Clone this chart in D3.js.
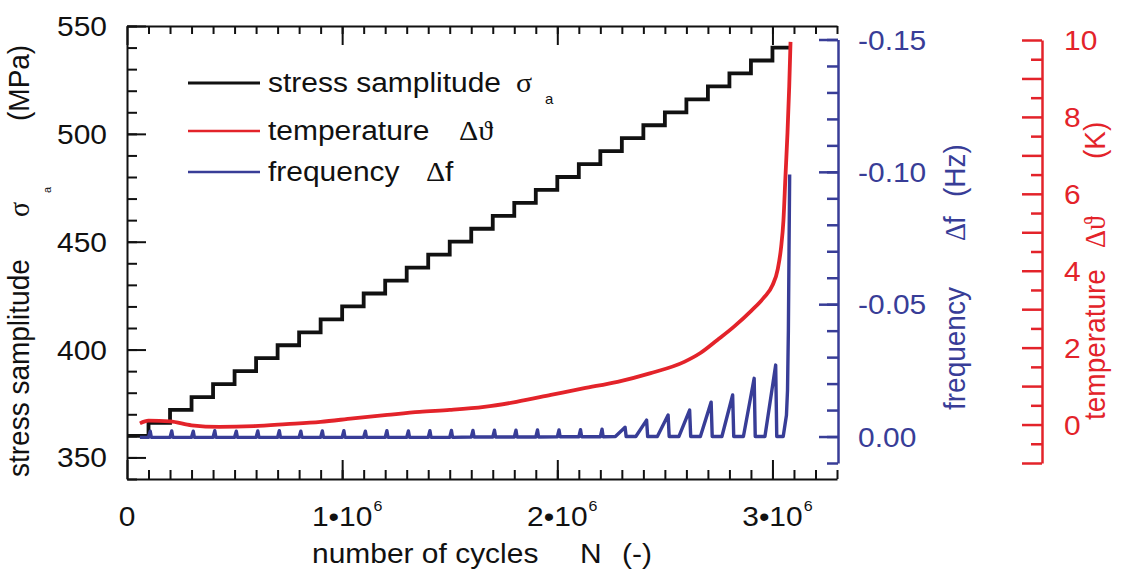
<!DOCTYPE html>
<html>
<head>
<meta charset="utf-8">
<script src="https://cdn.jsdelivr.net/npm/d3@7"></script>
<style>
  body { margin: 0; background: #fff; }
  svg { display: block; }
</style>
</head>
<body>
<script>

// number of cycles in units of 10^6
var stressCycles = [0, 0.1, 0.2, 0.3, 0.4, 0.5, 0.6, 0.7, 0.8, 0.9, 1.0, 1.1, 1.2, 1.3, 1.4, 1.5,
    1.6, 1.7, 1.8, 1.9, 2.0, 2.1, 2.2, 2.3, 2.4, 2.5, 2.6, 2.7, 2.8, 2.9, 3.0, 3.08];
var stressLevels = [360, 366, 372, 378, 384, 390, 396, 402, 408, 414, 420, 426, 432, 438, 444, 450,
    456, 462, 468, 474, 480, 486, 492, 498, 504, 510, 516, 522, 528, 534, 540, 540];

var tempCycles = [0.06, 0.1, 0.2, 0.3, 0.43, 0.59, 0.74, 0.9, 1.05, 1.21, 1.36, 1.5, 1.66, 1.81, 1.97,
    2.12, 2.28, 2.43, 2.59, 2.665, 2.744, 2.82, 2.9, 2.96, 3.0, 3.025, 3.04, 3.051, 3.06, 3.07, 3.078, 3.084];
var tempValues = [0.03, 0.1, 0.08, -0.02, -0.06, -0.04, 0.01, 0.07, 0.16, 0.25, 0.33, 0.38, 0.46, 0.59, 0.77,
    0.94, 1.11, 1.33, 1.63, 1.86, 2.2, 2.54, 2.95, 3.3, 3.62, 4.05, 4.6, 5.3, 6.4, 7.6, 8.8, 9.95];

var freqCycles = [0.06,
    0.10, 0.108, 0.113, 0.20, 0.208, 0.213, 0.30, 0.308, 0.313, 0.40, 0.408, 0.413,
    0.50, 0.508, 0.513, 0.60, 0.608, 0.613, 0.70, 0.708, 0.713, 0.80, 0.808, 0.813,
    0.90, 0.908, 0.913, 1.00, 1.008, 1.013, 1.10, 1.108, 1.113, 1.20, 1.208, 1.213,
    1.30, 1.308, 1.313, 1.40, 1.408, 1.413, 1.50, 1.508, 1.513, 1.60, 1.608, 1.613,
    1.70, 1.708, 1.713, 1.80, 1.808, 1.813, 1.90, 1.908, 1.913, 2.00, 2.008, 2.013,
    2.10, 2.108, 2.113, 2.20, 2.208, 2.213,
    2.27, 2.315, 2.32, 2.365, 2.415, 2.42, 2.465, 2.515, 2.52, 2.565, 2.615, 2.62,
    2.665, 2.715, 2.72, 2.765, 2.815, 2.82, 2.865, 2.915, 2.92, 2.965, 3.015, 3.02,
    3.05, 3.065, 3.07, 3.074, 3.077, 3.08];
var freqValues = [0.0003,
    0.0003, -0.0020, 0.0003, 0.0003, -0.0021, 0.0003, 0.0003, -0.0020, 0.0003, 0.0003, -0.0022, 0.0003,
    0.0003, -0.0020, 0.0003, 0.0003, -0.0021, 0.0003, 0.0003, -0.0022, 0.0003, 0.0003, -0.0020, 0.0003,
    0.0003, -0.0021, 0.0003, 0.0003, -0.0022, 0.0003, 0.0003, -0.0020, 0.0003, 0.0003, -0.0022, 0.0003,
    0.0003, -0.0021, 0.0003, 0.0003, -0.0022, 0.0003, 0.0003, -0.0023, 0.0003, 0.0002, -0.0023, 0.0002,
    0.0002, -0.0024, 0.0002, 0.0002, -0.0024, 0.0002, 0.0002, -0.0025, 0.0002, 0.0001, -0.0025, 0.0001,
    0.0001, -0.0026, 0.0001, 0.0001, -0.0028, 0.0001,
    0.0, -0.0035, 0.0, 0.0, -0.0062, 0.0, 0.0, -0.0081, 0.0, 0.0, -0.0100, 0.0,
    0.0, -0.0130, 0.0, 0.0, -0.0157, 0.0, 0.0, -0.0220, 0.0, 0.0, -0.0270, 0.0,
    0.0, -0.008, -0.0175, -0.040, -0.070, -0.099];

var xTicks = [0, 1, 2, 3];
var xTickLabels = ["0", "1\u202210", "2\u202210", "3\u202210"];
var sigmaTicks = [350, 400, 450, 500, 550];
var freqTicks = [0, -0.05, -0.10, -0.15];
var freqTickLabels = ["0.00", "-0.05", "-0.10", "-0.15"];
var tempTicks = [0, 2, 4, 6, 8, 10];

var legendNames = ["stress samplitude", "temperature", "frequency"];

// layout
var width = 1123, height = 574;
var plot = {left: 127, right: 837, top: 26, bottom: 479};
var black = "#111111", red = "#e3232a", blue = "#383d97";
var sans = "'Liberation Sans', Arial, sans-serif";
var serif = "'Liberation Serif', 'DejaVu Serif', serif";
var fs = 28, sx = 1.07;   // the original figure is slightly stretched sideways

var svg = d3.select("body").append("svg")
    .attr("width", width)
    .attr("height", height);

var x = d3.scaleLinear().domain([0, 3.3]).range([plot.left, plot.right]);
var ySigma = d3.scaleLinear().domain([340, 550]).range([plot.bottom, plot.top]);
var yFreq = d3.scaleLinear().domain([0.01, -0.15]).range([463, 39.5]);
var yTemp = d3.scaleLinear().domain([-1, 10]).range([463, 40]);

// horizontal / rotated text helpers
function hText(g, px, py, str, anchor, color, size, family) {
    return g.append("text")
        .attr("transform", "translate(" + px + "," + py + ") scale(" + sx + ",1)")
        .attr("text-anchor", anchor || "start")
        .attr("fill", color || black)
        .style("font-family", family || sans)
        .style("font-size", (size || fs) + "px")
        .text(str);
}
function vText(g, px, py, str, color, size, family) {
    return g.append("text")
        .attr("transform", "translate(" + px + "," + py + ") rotate(-90) scale(1," + sx + ")")
        .attr("fill", color || black)
        .style("font-family", family || sans)
        .style("font-size", (size || fs) + "px")
        .text(str);
}
function styleAxis(g, color, w) {
    g.attr("color", color);
    g.selectAll("line").attr("stroke-width", w);
    g.selectAll(".domain").attr("stroke-width", w);
}

// ---------- main frame: bottom, top, left ----------
var xMinor = d3.range(1, 34).map(function(i){ return i / 10; });
var sigmaMinor = d3.range(340, 551, 10);

var gb = svg.append("g").attr("transform", "translate(0," + plot.bottom + ")")
    .call(d3.axisBottom(x).tickValues(xTicks).tickSizeInner(-19).tickSizeOuter(0).tickFormat(""));
styleAxis(gb, black, 2);
var gbm = svg.append("g").attr("transform", "translate(0," + plot.bottom + ")")
    .call(d3.axisBottom(x).tickValues(xMinor).tickSizeInner(-9).tickSizeOuter(0).tickFormat(""));
gbm.select(".domain").remove();
styleAxis(gbm, black, 2);

var gt = svg.append("g").attr("transform", "translate(0," + plot.top + ")")
    .call(d3.axisTop(x).tickValues(xTicks).tickSizeInner(-19).tickSizeOuter(0).tickFormat(""));
styleAxis(gt, black, 2);
var gtm = svg.append("g").attr("transform", "translate(0," + plot.top + ")")
    .call(d3.axisTop(x).tickValues(xMinor).tickSizeInner(-8).tickSizeOuter(0).tickFormat(""));
gtm.select(".domain").remove();
styleAxis(gtm, black, 2);

var gl = svg.append("g").attr("transform", "translate(" + plot.left + ",0)")
    .call(d3.axisLeft(ySigma).tickValues(sigmaTicks).tickSizeInner(-19).tickSizeOuter(0).tickFormat(""));
styleAxis(gl, black, 2);
var glm = svg.append("g").attr("transform", "translate(" + plot.left + ",0)")
    .call(d3.axisLeft(ySigma).tickValues(sigmaMinor).tickSizeInner(-10).tickSizeOuter(0).tickFormat(""));
glm.select(".domain").remove();
styleAxis(glm, black, 2);

// ---------- blue frequency axis ----------
var freqMinor = d3.range(-15, 2).map(function(i){ return i / 100; });
var gf = svg.append("g").attr("transform", "translate(838,0)")
    .call(d3.axisRight(yFreq).tickValues(freqTicks).tickSizeInner(-19).tickSizeOuter(0).tickFormat(""));
styleAxis(gf, blue, 2.5);
var gfm = svg.append("g").attr("transform", "translate(838,0)")
    .call(d3.axisRight(yFreq).tickValues(freqMinor).tickSizeInner(-11).tickSizeOuter(0).tickFormat(""));
gfm.select(".domain").remove();
styleAxis(gfm, blue, 2.5);

// ---------- red temperature axis ----------
var tempMajor = d3.range(-1, 11);
var tempMinor = d3.range(-1, 10).map(function(i){ return i + 0.5; });
var gT = svg.append("g").attr("transform", "translate(1042,0)")
    .call(d3.axisRight(yTemp).tickValues(tempMajor).tickSizeInner(-20).tickSizeOuter(0).tickFormat(""));
styleAxis(gT, red, 2.5);
var gTm = svg.append("g").attr("transform", "translate(1042,0)")
    .call(d3.axisRight(yTemp).tickValues(tempMinor).tickSizeInner(-11).tickSizeOuter(0).tickFormat(""));
gTm.select(".domain").remove();
styleAxis(gTm, red, 2.5);

// ---------- tick labels ----------
var labels = svg.append("g");
sigmaTicks.forEach(function(v){
    hText(labels, 107, ySigma(v) + 10, String(v), "end", black);
});
freqTicks.forEach(function(v, i){
    hText(labels, 858, yFreq(v) + 10, freqTickLabels[i], "start", blue);
});
tempTicks.forEach(function(v){
    hText(labels, 1064, yTemp(v) + 10, String(v), "start", red);
});
xTicks.forEach(function(v, i){
    var t = hText(labels, x(v), 526, xTickLabels[i], "middle", black);
    if (i > 0) {
        var w = t.node().getComputedTextLength() * sx;
        hText(labels, x(v) + w / 2 + 1, 511, "6", "start", black, 15);
    }
});

// ---------- axis titles ----------
var titles = svg.append("g");
hText(titles, 312, 563, "number of cycles", "start", black);
hText(titles, 580, 563, "N", "start", black);
hText(titles, 622, 563, "(-)", "start", black);

vText(titles, 29, 477, "stress samplitude", black);
vText(titles, 29, 217, "\u03c3", black, fs, serif);
vText(titles, 51, 193, "a", black, 11);
vText(titles, 29, 121, "(MPa)", black);

vText(titles, 965, 410, "frequency", blue);
vText(titles, 965, 241, "\u0394", blue, fs, serif);
vText(titles, 965, 224, "f", blue);
vText(titles, 965, 197, "(Hz)", blue);

vText(titles, 1105, 420, "temperature", red);
vText(titles, 1105, 248, "\u0394\u03d1", red, fs, serif);
vText(titles, 1105, 159, "(K)", red);

// ---------- data lines ----------
var stressData = stressCycles.map(function(n, i){ return [n, stressLevels[i]]; });
var tempData = tempCycles.map(function(n, i){ return [n, tempValues[i]]; });
var freqData = freqCycles.map(function(n, i){ return [n, freqValues[i]]; });

svg.append("path")
    .datum(stressData)
    .attr("fill", "none")
    .attr("stroke", black)
    .attr("stroke-width", 3.8)
    .attr("d", d3.line().curve(d3.curveStepAfter)
        .x(function(d){ return x(d[0]); })
        .y(function(d){ return ySigma(d[1]); }));

svg.append("path")
    .datum(freqData)
    .attr("fill", "none")
    .attr("stroke", blue)
    .attr("stroke-width", 3.4)
    .attr("stroke-linejoin", "round")
    .attr("d", d3.line()
        .x(function(d){ return x(d[0]); })
        .y(function(d){ return yFreq(d[1]); }));

svg.append("path")
    .datum(tempData)
    .attr("fill", "none")
    .attr("stroke", red)
    .attr("stroke-width", 3.8)
    .attr("stroke-linejoin", "round")
    .attr("d", d3.line().curve(d3.curveMonotoneX)
        .x(function(d){ return x(d[0]); })
        .y(function(d){ return yTemp(d[1]); }));

// ---------- legend ----------
var legend = svg.append("g");
var legendY = [83, 131, 172];
var legendColors = [black, red, blue];
legendNames.forEach(function(name, i){
    legend.append("line")
        .attr("x1", 188).attr("x2", 260)
        .attr("y1", legendY[i]).attr("y2", legendY[i])
        .attr("stroke", legendColors[i])
        .attr("stroke-width", i === 0 ? 3 : 2.6);
    hText(legend, 268, legendY[i] + 9, name, "start", black);
});
hText(legend, 516, 92, "\u03c3", "start", black, fs, serif);
hText(legend, 545, 104, "a", "start", black, 14);
hText(legend, 459, 140, "\u0394\u03d1", "start", black, fs, serif);
hText(legend, 426, 181, "\u0394", "start", black, fs, serif);
hText(legend, 445, 181, "f", "start", black);

</script>
</body>
</html>
